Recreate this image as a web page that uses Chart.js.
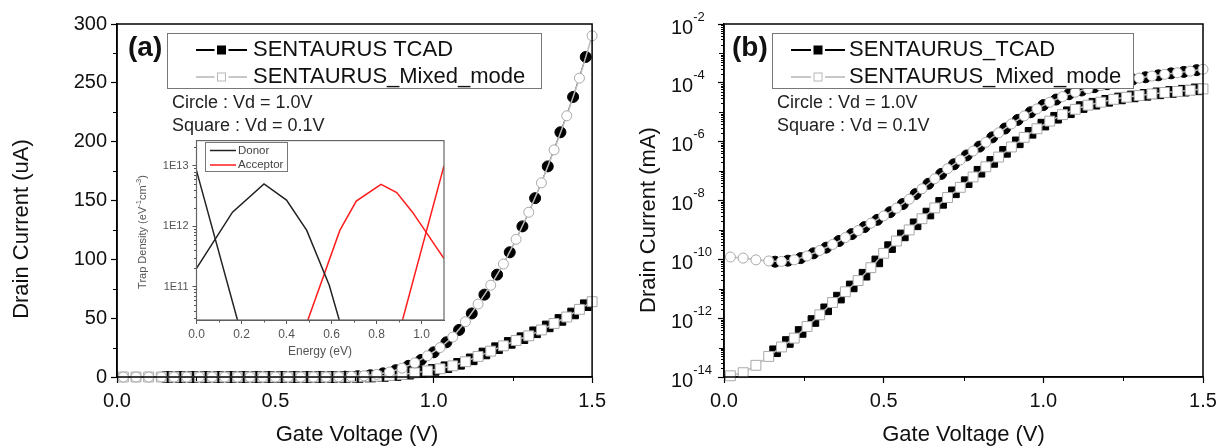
<!DOCTYPE html>
<html>
<head>
<meta charset="utf-8">
<script src="https://cdn.jsdelivr.net/npm/chart.js@4.4.1/dist/chart.umd.min.js"></script>
<style>
  html, body { margin: 0; padding: 0; background: #fff; }
  #wrap { position: relative; width: 1223px; height: 448px; overflow: hidden; }
  canvas { position: absolute; }
</style>
</head>
<body>
<div id="wrap">
  <canvas id="panelA" width="612" height="448" style="left:0;top:0"></canvas>
  <canvas id="panelB" width="611" height="448" style="left:612px;top:0"></canvas>
  <canvas id="inset" width="330" height="240" style="left:130px;top:130px"></canvas>
</div>
<script>
// gate voltage sweep points (V)
const gateMixed = [0.02, 0.06, 0.10, 0.14, 0.18, 0.22, 0.26, 0.30, 0.34, 0.38, 0.42, 0.46, 0.50,
  0.54, 0.58, 0.62, 0.66, 0.70, 0.74, 0.78, 0.82, 0.86, 0.90, 0.94, 0.98, 1.02, 1.06, 1.10,
  1.14, 1.18, 1.22, 1.26, 1.30, 1.34, 1.38, 1.42, 1.46, 1.50];
const gateTcad = [0.16, 0.20, 0.24, 0.28, 0.32, 0.36, 0.40, 0.44, 0.48, 0.52, 0.56, 0.60, 0.64,
  0.68, 0.72, 0.76, 0.80, 0.84, 0.88, 0.92, 0.96, 1.00, 1.04, 1.08, 1.12, 1.16, 1.20, 1.24,
  1.28, 1.32, 1.36, 1.40, 1.44, 1.48];

// (a) linear drain current, uA
const linMixedVd10 = [0, 0, 0, 0, 0, 0, 0, 0, 0, 0, 0, 0, 0, 0, 0, 0, 0,
  0.2, 0.5, 1.0, 2.2, 4.2, 7.5, 12, 18, 25, 34, 47, 62, 78, 96, 117, 140, 165, 193, 222, 254, 290];
const linTcadVd10 = [0, 0, 0, 0, 0, 0, 0, 0, 0, 0, 0, 0, 0, 0,
  0.3, 0.7, 1.5, 3.1, 5.8, 9.5, 14.5, 21, 29.5, 40, 54, 70, 87, 106, 128, 152, 179, 208, 238, 272];
const linMixedVd01 = [0, 0, 0, 0, 0, 0, 0, 0, 0, 0, 0, 0, 0, 0, 0, 0, 0, 0, 0,
  0.3, 0.7, 1.3, 2.2, 3.5, 5.2, 7, 9.5, 13, 17.5, 22, 26.5, 31, 35, 40, 45.5, 51, 57.5, 64];
const linTcadVd01 = [0, 0, 0, 0, 0, 0, 0, 0, 0, 0, 0, 0, 0, 0, 0, 0,
  0.4, 0.9, 1.7, 2.8, 4.3, 6, 8.3, 11.2, 15, 20, 24.5, 29, 33, 38, 43, 48.5, 54, 61];

// (b) log drain current, mA
const logMixedVd10 = [1.2e-10, 1.1e-10, 9.6e-11, 8.8e-11, 8.5e-11, 9.6e-11, 1.3e-10, 2.0e-10,
  3.2e-10, 5.5e-10, 9.5e-10, 1.7e-9, 3.0e-9, 5.5e-9, 1.1e-8, 2.5e-8, 5.5e-8, 1.2e-7, 2.4e-7,
  4.8e-7, 9.5e-7, 2.0e-6, 4.0e-6, 7.5e-6, 1.3e-5, 2.2e-5, 3.4e-5, 4.8e-5, 6.3e-5, 8.0e-5,
  1.0e-4, 1.2e-4, 1.45e-4, 1.7e-4, 1.95e-4, 2.2e-4, 2.5e-4, 2.9e-4];
const logTcadVd10 = [8.3e-11, 9.0e-11, 1.1e-10, 1.6e-10, 2.5e-10, 4.2e-10, 7.2e-10, 1.25e-9,
  2.2e-9, 4.0e-9, 7.6e-9, 1.65e-8, 3.7e-8, 8.0e-8, 1.7e-7, 3.4e-7, 6.8e-7, 1.4e-6, 2.8e-6,
  5.5e-6, 1.0e-5, 1.75e-5, 2.7e-5, 4.1e-5, 5.5e-5, 7.1e-5, 9.0e-5, 1.1e-4, 1.3e-4, 1.55e-4,
  1.8e-4, 2.1e-4, 2.35e-4, 2.7e-4];
const logMixedVd01 = [1.1e-14, 1.4e-14, 2.5e-14, 5.0e-14, 1.05e-13, 2.1e-13, 5.2e-13, 1.3e-12,
  3.4e-12, 7.9e-12, 1.9e-11, 5.2e-11, 1.6e-10, 4.2e-10, 1.0e-9, 2.4e-9, 5.6e-9, 1.26e-8, 2.8e-8,
  6.3e-8, 1.4e-7, 3.0e-7, 6.6e-7, 1.4e-6, 2.75e-6, 5.0e-6, 8.3e-6, 1.26e-5, 1.74e-5, 2.2e-5,
  2.75e-5, 3.25e-5, 3.7e-5, 4.2e-5, 4.7e-5, 5.1e-5, 5.6e-5, 6.2e-5];
const logTcadVd01 = [7.5e-14, 1.55e-13, 3.4e-13, 8.0e-13, 2.0e-12, 5.0e-12, 1.2e-11, 3.0e-11,
  8.5e-11, 2.6e-10, 6.5e-10, 1.55e-9, 3.6e-9, 8.3e-9, 1.9e-8, 4.2e-8, 9.5e-8, 2.05e-7, 4.5e-7,
  9.5e-7, 2.0e-6, 3.8e-6, 6.5e-6, 1.0e-5, 1.5e-5, 1.95e-5, 2.45e-5, 2.95e-5, 3.45e-5, 3.9e-5,
  4.4e-5, 4.9e-5, 5.4e-5, 6.0e-5];

// inset: trap density vs energy
const donorPeakE = [0, 0.16, 0.30, 0.40, 0.49, 0.59, 0.70];
const donorPeakN = [2.0e11, 1.7e12, 5.0e12, 2.7e12, 8.5e11, 1.05e11, 4e9];
const donorTailE = [0, 0.20];
const donorTailN = [8.3e12, 1.6e10];
const acceptorPeakE = [0.45, 0.637, 0.71, 0.82, 0.89, 0.96, 1.10];
const acceptorPeakN = [9.5e9, 8.5e11, 2.6e12, 4.9e12, 3.6e12, 1.7e12, 2.9e11];
const acceptorTailE = [0.90, 1.10];
const acceptorTailN = [1.7e10, 1.0e13];

// tick values
const gateTicks = [0, 0.5, 1.0, 1.5];
const gateMinor = [0.25, 0.75, 1.25];
const linTicks = [0, 50, 100, 150, 200, 250, 300];
const linMinor = [25, 75, 125, 175, 225, 275];
const logExponents = [-14, -12, -10, -8, -6, -4, -2];
const energyTicks = [0, 0.2, 0.4, 0.6, 0.8, 1.0];
const energyMinor = [0.1, 0.3, 0.5, 0.7, 0.9];
const trapTicks = [1e11, 1e12, 1e13];

const FONT = '"Liberation Sans", Arial, sans-serif';
Chart.defaults.font.family = FONT;
Chart.defaults.color = '#111';

const pairs = (xs, ys) => xs.map((x, i) => ({ x: x, y: ys[i] }));
const setTicks = vals => scale => { scale.ticks = vals.map(v => ({ value: v })); };

// log minor ticks: odd decades a bit longer than the 2..9 marks
const logMinor = [];
for (let n = -14; n <= -3; n++) {
  if (n % 2 !== 0) logMinor.push({ v: Math.pow(10, n), len: 5 });
  for (let m = 2; m <= 9; m++) logMinor.push({ v: m * Math.pow(10, n), len: 3 });
}
const trapMinor = [];
for (let n = 10; n <= 13; n++) {
  for (let m = 2; m <= 9; m++) {
    const v = m * Math.pow(10, n);
    if (v > 2.8e10 && v < 2.6e13) trapMinor.push({ v: v, len: 2.5 });
  }
}

function drawText(ctx, t) {
  ctx.save();
  ctx.font = t.font;
  ctx.fillStyle = t.color || '#111';
  ctx.textAlign = t.align || 'left';
  ctx.textBaseline = 'middle';
  ctx.translate(t.x, t.y);
  if (t.rotate) ctx.rotate(t.rotate);
  ctx.fillText(t.text, 0, 0);
  ctx.restore();
}

function drawLegend(ctx, lg) {
  const [bx, by, bw, bh] = lg.box;
  ctx.save();
  ctx.fillStyle = '#fff';
  ctx.fillRect(bx, by, bw, bh);
  ctx.strokeStyle = lg.border;
  ctx.lineWidth = 1;
  ctx.strokeRect(bx + 0.5, by + 0.5, bw, bh);
  lg.rows.forEach(r => {
    const x0 = lg.lineX[0], x1 = lg.lineX[1], cx = (x0 + x1) / 2;
    ctx.strokeStyle = r.color;
    ctx.lineWidth = r.lineWidth;
    ctx.beginPath();
    if (r.marker) {
      // line broken around the marker
      const g = r.marker.size / 2 + 3;
      ctx.moveTo(x0, r.y); ctx.lineTo(cx - g, r.y);
      ctx.moveTo(cx + g, r.y); ctx.lineTo(x1, r.y);
    } else {
      ctx.moveTo(x0, r.y); ctx.lineTo(x1, r.y);
    }
    ctx.stroke();
    if (r.marker) {
      const s = r.marker.size;
      ctx.fillStyle = r.marker.fill;
      ctx.fillRect(cx - s / 2, r.y - s / 2, s, s);
      ctx.strokeStyle = r.marker.stroke;
      ctx.lineWidth = 1;
      ctx.strokeRect(cx - s / 2, r.y - s / 2, s, s);
    }
    drawText(ctx, { text: r.text, x: lg.textX, y: r.y, font: lg.font, color: lg.textColor });
  });
  ctx.restore();
}

function makeDecor(cfg) {
  return {
    id: 'decor',
    afterDraw(chart) {
      const ctx = chart.ctx, a = chart.chartArea;
      const sx = chart.scales.x, sy = chart.scales.y;
      ctx.save();
      ctx.strokeStyle = cfg.tickColor;
      ctx.lineWidth = 1;
      cfg.minorX.forEach(v => {
        const p = Math.round(sx.getPixelForValue(v)) + 0.5;
        ctx.beginPath(); ctx.moveTo(p, a.bottom); ctx.lineTo(p, a.bottom + cfg.minorLen); ctx.stroke();
      });
      cfg.minorY.forEach(m => {
        const v = typeof m === 'number' ? m : m.v;
        const len = typeof m === 'number' ? cfg.minorLen : m.len;
        const p = Math.round(sy.getPixelForValue(v)) + 0.5;
        ctx.beginPath(); ctx.moveTo(a.left, p); ctx.lineTo(a.left - len, p); ctx.stroke();
      });
      ctx.strokeStyle = cfg.frameColor;
      ctx.lineWidth = cfg.frameWidth;
      ctx.strokeRect(a.left, a.top, a.right - a.left, a.bottom - a.top);
      if (cfg.powers) {
        cfg.powers.forEach(e => {
          const p = sy.getPixelForValue(Math.pow(10, e));
          ctx.font = '20px ' + FONT;
          const w = ctx.measureText('10').width;
          drawText(ctx, { text: '10', x: cfg.powerX, y: p + 4, font: '20px ' + FONT });
          drawText(ctx, { text: String(e), x: cfg.powerX + w, y: p - 7, font: '13px ' + FONT });
        });
      }
      if (cfg.legend) drawLegend(ctx, cfg.legend);
      (cfg.texts || []).forEach(t => drawText(ctx, t));
      if (cfg.rich) {
        const r = cfg.rich;
        ctx.save();
        ctx.translate(r.x, r.y);
        ctx.rotate(-Math.PI / 2);
        ctx.fillStyle = r.color;
        ctx.textBaseline = 'middle';
        let total = 0;
        r.parts.forEach(pt => { ctx.font = (pt.sup ? r.supSize : r.size) + 'px ' + FONT; total += ctx.measureText(pt.t).width; });
        let x = -total / 2;
        r.parts.forEach(pt => {
          ctx.font = (pt.sup ? r.supSize : r.size) + 'px ' + FONT;
          ctx.fillText(pt.t, x, pt.sup ? -4 : 0);
          x += ctx.measureText(pt.t).width;
        });
        ctx.restore();
      }
      ctx.restore();
    }
  };
}

function mainScales(yCfg, yWidth) {
  return {
    x: {
      type: 'linear', min: 0, max: 1.5,
      afterBuildTicks: setTicks(gateTicks),
      afterFit: s => { s.height = 71; },
      ticks: { callback: v => v.toFixed(1), font: { size: 20 }, color: '#111', padding: 6, maxRotation: 0, autoSkip: false },
      grid: { drawOnChartArea: false, tickLength: 6, tickColor: '#000', tickWidth: 1.2 },
      border: { color: '#000', width: 1.5 }
    },
    y: Object.assign({
      afterFit: s => { s.width = yWidth; },
      grid: { drawOnChartArea: false, tickLength: 6, tickColor: '#000', tickWidth: 1.2 },
      border: { color: '#000', width: 1.5 }
    }, yCfg)
  };
}

function curveSets(mixed10, mixed01, tcad10, tcad01) {
  const open = { backgroundColor: '#fff', pointBackgroundColor: '#fff', pointBorderColor: '#a8a8a8',
    borderColor: '#bcbcbc', borderWidth: 1.5, pointBorderWidth: 1, clip: false };
  const solid = { backgroundColor: '#000', pointBackgroundColor: '#000', pointBorderColor: '#000',
    borderColor: '#000', borderWidth: 1, pointBorderWidth: 1, clip: false };
  return [
    Object.assign({ label: 'Mixed Vd=1.0', data: pairs(gateMixed, mixed10), pointStyle: 'circle', pointRadius: 5 }, open),
    Object.assign({ label: 'Mixed Vd=0.1', data: pairs(gateMixed, mixed01), pointStyle: 'rect', pointRadius: 7 }, open),
    Object.assign({ label: 'TCAD Vd=1.0', data: pairs(gateTcad, tcad10), pointStyle: 'circle', pointRadius: 5.5 }, solid),
    Object.assign({ label: 'TCAD Vd=0.1', data: pairs(gateTcad, tcad01), pointStyle: 'rect', pointRadius: 7.5 }, solid)
  ];
}

const common = {
  responsive: false, animation: false, devicePixelRatio: 1, events: [],
  plugins: { legend: { display: false }, tooltip: { enabled: false } },
  elements: { line: { tension: 0 } }
};

function legendCfg(box, lineX, textX, tcadName) {
  return {
    box: box, lineX: lineX, textX: textX, border: '#777', textColor: '#111', font: '22px ' + FONT,
    rows: [
      { y: 50, text: tcadName, color: '#000', lineWidth: 2, marker: { fill: '#000', stroke: '#000', size: 8 } },
      { y: 77, text: 'SENTAURUS_Mixed_mode', color: '#c8c8c8', lineWidth: 2, marker: { fill: '#fff', stroke: '#b8b8b8', size: 8 } }
    ]
  };
}

// (a) linear
new Chart(document.getElementById('panelA'), {
  type: 'line',
  data: { datasets: curveSets(linMixedVd10, linMixedVd01, linTcadVd10, linTcadVd01) },
  options: Object.assign({}, common, {
    layout: { padding: { left: 0, right: 15, top: 24, bottom: 0 } },
    scales: mainScales({
      type: 'linear', min: 0, max: 300,
      afterBuildTicks: setTicks(linTicks),
      ticks: { font: { size: 20 }, color: '#111', padding: 4 }
    }, 117)
  }),
  plugins: [makeDecor({
    tickColor: '#000', minorLen: 4, frameColor: '#000', frameWidth: 1.5,
    minorX: gateMinor, minorY: linMinor,
    legend: legendCfg([167, 33, 374, 55], [196, 247], 253, 'SENTAURUS TCAD'),
    texts: [
      { text: '(a)', x: 128, y: 48, font: 'bold 28px ' + FONT },
      { text: 'Circle : Vd = 1.0V', x: 172, y: 103, font: '18px ' + FONT, color: '#222' },
      { text: 'Square : Vd = 0.1V', x: 172, y: 126, font: '18px ' + FONT, color: '#222' },
      { text: 'Gate Voltage (V)', x: 357, y: 435, font: '22px ' + FONT, align: 'center' },
      { text: 'Drain Current (uA)', x: 22, y: 229, font: '22px ' + FONT, align: 'center', rotate: -Math.PI / 2 }
    ]
  })]
});

// (b) logarithmic
new Chart(document.getElementById('panelB'), {
  type: 'line',
  data: { datasets: curveSets(logMixedVd10, logMixedVd01, logTcadVd10, logTcadVd01) },
  options: Object.assign({}, common, {
    layout: { padding: { left: 0, right: 20, top: 24, bottom: 0 } },
    scales: mainScales({
      type: 'logarithmic', min: 1e-14, max: 1e-2,
      afterBuildTicks: setTicks(logExponents.map(e => Math.pow(10, e))),
      ticks: { display: false }
    }, 112)
  }),
  plugins: [makeDecor({
    tickColor: '#000', minorLen: 4, frameColor: '#000', frameWidth: 1.5,
    minorX: gateMinor, minorY: logMinor,
    powers: logExponents, powerX: 59,
    legend: legendCfg([160, 33, 361, 55], [179, 233], 237, 'SENTAURUS_TCAD'),
    texts: [
      { text: '(b)', x: 120, y: 48, font: 'bold 28px ' + FONT },
      { text: 'Circle : Vd = 1.0V', x: 165, y: 103, font: '18px ' + FONT, color: '#222' },
      { text: 'Square : Vd = 0.1V', x: 165, y: 126, font: '18px ' + FONT, color: '#222' },
      { text: 'Gate Voltage (V)', x: 351.5, y: 435, font: '22px ' + FONT, align: 'center' },
      { text: 'Drain Current (mA)', x: 37, y: 220, font: '22px ' + FONT, align: 'center', rotate: -Math.PI / 2 }
    ]
  })]
});

// inset: donor / acceptor trap distributions
const insetLine = (data, color) => ({ data: data, borderColor: color, borderWidth: 1.5, pointRadius: 0 });
new Chart(document.getElementById('inset'), {
  type: 'line',
  data: {
    datasets: [
      insetLine(pairs(donorPeakE, donorPeakN), '#222'),
      insetLine(pairs(donorTailE, donorTailN), '#222'),
      insetLine(pairs(acceptorPeakE, acceptorPeakN), '#ff1c1c'),
      insetLine(pairs(acceptorTailE, acceptorTailN), '#ff1c1c')
    ]
  },
  options: Object.assign({}, common, {
    layout: { padding: { left: 0, right: 16, top: 10, bottom: 0 } },
    scales: {
      x: {
        type: 'linear', min: 0, max: 1.1,
        afterBuildTicks: setTicks(energyTicks),
        afterFit: s => { s.height = 50; },
        ticks: { callback: v => v.toFixed(1), font: { size: 12 }, color: '#555', padding: 3, maxRotation: 0, autoSkip: false },
        grid: { drawOnChartArea: false, tickLength: 4, tickColor: '#555' },
        border: { color: '#555', width: 1 }
      },
      y: {
        type: 'logarithmic', min: 2.8e10, max: 2.6e13,
        afterBuildTicks: setTicks(trapTicks),
        afterFit: s => { s.width = 66.5; },
        ticks: { callback: v => '1E' + Math.round(Math.log10(v)), font: { size: 11 }, color: '#555', padding: 4 },
        grid: { drawOnChartArea: false, tickLength: 4, tickColor: '#555' },
        border: { color: '#555', width: 1 }
      }
    }
  }),
  plugins: [makeDecor({
    tickColor: '#555', minorLen: 2.5, frameColor: '#666', frameWidth: 1.2,
    minorX: energyMinor, minorY: trapMinor,
    legend: {
      box: [75, 12, 82, 29], lineX: [80, 106], textX: 108, border: '#777', textColor: '#444', font: '11.5px ' + FONT,
      rows: [
        { y: 20.5, text: 'Donor', color: '#222', lineWidth: 1.5 },
        { y: 35, text: 'Acceptor', color: '#ff1c1c', lineWidth: 1.5 }
      ]
    },
    texts: [
      { text: 'Energy (eV)', x: 190, y: 222, font: '12px ' + FONT, align: 'center', color: '#555' }
    ],
    rich: {
      x: 13, y: 102, color: '#555', size: 11, supSize: 7.5,
      parts: [{ t: 'Trap Density (eV' }, { t: '-1', sup: true }, { t: 'cm' }, { t: '-3', sup: true }, { t: ')' }]
    }
  })]
});
</script>
</body>
</html>
